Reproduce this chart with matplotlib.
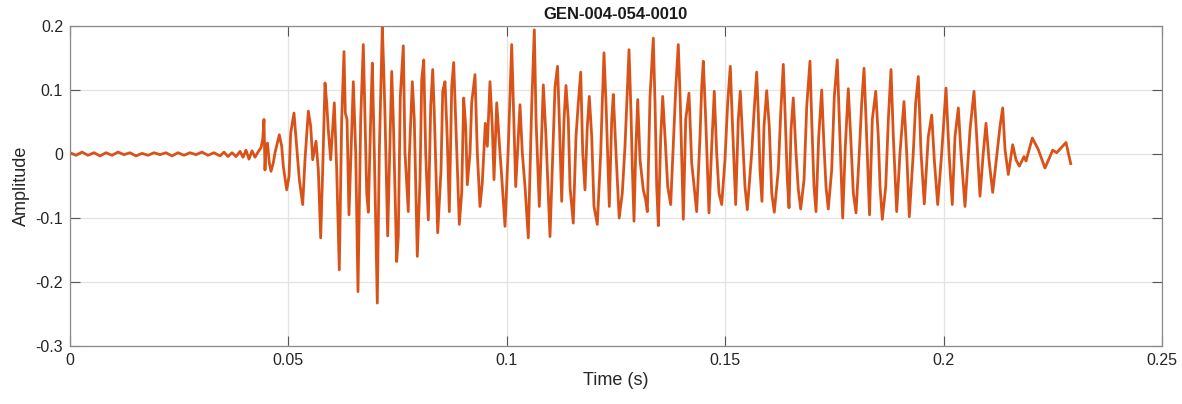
import matplotlib
matplotlib.use("Agg")
import matplotlib.pyplot as plt
import numpy as np

plt.rcParams['font.family'] = ['Liberation Sans', 'DejaVu Sans']
plt.rcParams['axes.unicode_minus'] = False

title = "GEN-004-054-0010"
xlabel = "Time (s)"
ylabel = "Amplitude"
xticks = [0, 0.05, 0.1, 0.15, 0.2, 0.25]
xticklabels = ["0", "0.05", "0.1", "0.15", "0.2", "0.25"]
yticks = [-0.3, -0.2, -0.1, 0, 0.1, 0.2]
yticklabels = ["-0.3", "-0.2", "-0.1", "0", "0.1", "0.2"]

# quiet lead-in (times in ms, amplitudes)
quiet_ms = [0, 1.37, 2.75, 4.12, 5.49, 6.87, 8.24, 9.62, 10.99, 12.36, 13.74,
            15.11, 16.48, 17.86, 19.23, 20.60, 21.98, 23.35, 24.73, 26.10,
            27.47, 28.85, 30.22, 31.59, 32.97, 34.34, 35.26, 36.17, 37.09,
            38.00, 38.92, 39.61, 40.29, 40.98, 41.67, 42.35, 43.04, 43.73]
quiet_amp = [0.002, -0.002, 0.003, -0.002, 0.002, -0.003, 0.002, -0.002,
             0.003, -0.001, 0.002, -0.003, 0.001, -0.002, 0.002, -0.001,
             0.002, -0.003, 0.002, -0.002, 0.002, -0.001, 0.003, -0.002,
             0.002, -0.003, 0.003, -0.004, 0.002, -0.004, 0.004, -0.005,
             0.006, -0.008, 0.005, -0.005, 0.003, 0.010]

# voiced part (times in ms, amplitudes)
voiced_ms = [44.12, 44.41, 44.64, 44.87, 45.21, 45.63, 46.02, 46.54, 46.93,
             47.92, 48.47, 48.83, 49.61, 50.14, 50.53, 51.28, 51.90, 52.50,
             53.27, 53.80, 54.56, 55.11, 55.56, 56.32, 56.85, 57.39, 57.85,
             58.38, 58.77, 59.13, 59.68, 60.51, 61.06, 61.65, 62.20, 62.73,
             63.03, 63.42, 63.87, 64.33, 64.86, 65.41, 65.93, 66.55, 67.15,
             67.54, 67.93, 68.30, 68.91, 69.21, 69.67, 70.35, 70.81, 71.50,
             71.82, 72.12, 72.73, 73.19, 73.65, 74.02, 74.79, 75.16, 75.62,
             76.31, 76.69, 77.45, 77.68, 78.37, 78.82, 79.51, 80.13, 80.52,
             80.98, 81.43, 82.03, 82.58, 83.04, 83.40, 84.18, 84.94, 85.33,
             85.85, 86.38, 86.84, 87.39, 87.84, 88.30, 89.13, 89.67, 90.13,
             90.59, 90.96, 91.58, 91.96, 92.72, 93.25, 93.86, 94.39, 95.08,
             95.54, 96.15, 96.68, 97.07, 97.69, 98.44, 98.83, 99.59, 100.35,
             101.12, 101.65, 102.04, 103.02, 103.55, 104.17, 104.92, 105.70,
             106.30, 106.69, 107.44, 108.36, 108.97, 109.89, 111.04, 111.61,
             112.02, 112.57, 113.10, 113.55, 114.08, 114.47, 115.22, 115.84,
             116.37, 116.92, 117.38, 117.90, 118.43, 118.89, 119.44, 119.96,
             120.72, 121.50, 121.86, 122.25, 122.71, 123.47, 124.02, 124.38,
             125.00, 125.73, 126.44, 127.06, 127.45, 127.98, 128.44, 128.73,
             129.12, 129.51, 129.97, 130.50, 131.25, 131.80, 132.17, 132.79,
             133.54, 133.93, 134.32, 134.69, 135.24, 135.69, 136.22, 136.84,
             137.52, 138.12, 138.67, 139.26, 139.72, 140.41, 140.96, 141.71,
             142.33, 143.47, 144.23, 144.62, 144.99, 145.54, 146.29, 146.91,
             147.50, 148.05, 148.58, 149.20, 149.95, 150.57, 151.17, 151.62,
             152.40, 153.00, 153.46, 154.14, 154.53, 155.06, 156.07, 156.59,
             157.21, 157.58, 157.97, 158.42, 158.88, 159.50, 160.09, 160.65,
             161.24, 162.16, 162.71, 163.30, 163.76, 164.22, 164.61, 165.07,
             165.59, 166.21, 166.74, 167.29, 168.05, 168.67, 169.41, 169.80,
             170.33, 170.79, 171.41, 172.09, 172.62, 173.08, 173.60, 174.38,
             174.98, 175.66, 176.12, 176.90, 177.50, 178.18, 178.73, 179.33,
             179.95, 180.70, 181.25, 181.78, 182.24, 183.04, 183.68, 184.46,
             185.05, 185.45, 185.97, 186.75, 187.35, 187.96, 188.49, 189.26,
             190.02, 190.93, 191.55, 192.15, 193.06, 193.61, 194.21, 194.83,
             195.58, 196.50, 197.28, 197.87, 198.65, 199.57, 200.55, 201.24,
             201.99, 202.61, 203.37, 203.98, 204.90, 206.05, 206.96, 207.58,
             208.33, 209.09, 209.71, 210.39, 211.24, 212.16, 212.91, 213.53,
             214.06, 214.81, 215.82, 216.57, 217.33, 218.41, 218.87, 220.31,
             221.68, 223.21, 224.98, 225.89, 228.02, 229.10]
voiced_amp = [0.023, 0.054, -0.025, 0.012, 0.017, -0.014, -0.027, -0.014, 0.002,
              0.030, 0.012, -0.019, -0.056, -0.035, 0.033, 0.064, 0.012, -0.040,
              -0.079, -0.009, 0.067, 0.043, -0.009, 0.020, -0.025, -0.131, -0.025,
              0.111, 0.080, 0.038, -0.009, 0.080, -0.025, -0.181, 0.054, 0.160,
              0.064, 0.054, -0.095, 0.002, 0.113, 0.002, -0.215, 0.054, 0.171,
              0.054, -0.061, -0.091, 0.075, 0.142, 0.002, -0.233, 0.002, 0.199,
              0.132, 0.059, -0.128, 0.002, 0.129, 0.054, -0.168, -0.129, 0.090,
              0.169, 0.002, -0.090, -0.004, 0.113, 0.054, -0.160, -0.040, 0.116,
              0.147, 0.002, -0.103, 0.075, 0.132, 0.064, -0.123, -0.025, 0.098,
              0.113, 0.022, -0.090, 0.105, 0.143, 0.054, -0.110, -0.061, 0.0875,
              0.043, -0.048, 0.002, 0.080, 0.124, 0.002, -0.082, -0.045, 0.048,
              0.012, 0.113, 0.043, -0.040, 0.080, 0.002, -0.035, -0.113, 0.012,
              0.171, 0.043, -0.051, 0.077, 0.002, -0.051, -0.131, 0.075,
              0.194, 0.054, -0.082, 0.108, 0.027, -0.129, 0.105, 0.137,
              0.054, -0.074, 0.054, 0.107, 0.054, -0.051, -0.108, 0.027,
              0.080, 0.128, 0.002, -0.056, 0.043, 0.090, 0.027, -0.082,
              -0.110, 0.002, 0.080, 0.158, 0.080, -0.082, 0.054, 0.093,
              0.002, -0.100, -0.061, 0.012, 0.075, 0.163, 0.064, -0.019,
              -0.105, 0.002, 0.085, -0.009, -0.056, -0.072, -0.090, 0.090,
              0.181, 0.080, -0.051, -0.112, 0.027, 0.090, 0.027, -0.051,
              -0.079, 0.017, 0.101, 0.171, 0.080, -0.102, 0.054, 0.095,
              -0.014, -0.090, 0.027, 0.105, 0.145, 0.054, -0.092, 0.012,
              0.098, 0.002, -0.061, -0.079, -0.009, 0.080, 0.137, 0.054,
              -0.079, 0.054, 0.098, 0.002, -0.051, -0.087, 0.002, 0.064,
              0.128, 0.064, -0.025, -0.074, 0.043, 0.099, 0.043, -0.061,
              -0.091, -0.025, 0.064, 0.140, 0.054, -0.040, -0.084, 0.038,
              0.0875, 0.002, -0.056, -0.086, -0.040, 0.075, 0.145, 0.054,
              -0.051, -0.090, 0.027, 0.100, 0.012, -0.051, -0.086, -0.025,
              0.090, 0.147, 0.054, -0.100, 0.012, 0.102, 0.027, -0.061,
              -0.092, 0.002, 0.080, 0.134, 0.054, -0.095, 0.054, 0.098,
              0.027, -0.051, -0.102, -0.051, 0.054, 0.132, 0.027, -0.090,
              0.002, 0.082, 0.002, -0.098, 0.002, 0.080, 0.121, 0.002,
              -0.078, 0.027, 0.061, -0.009, -0.079, 0.002, 0.103, 0.002,
              -0.079, 0.027, 0.072, 0.002, -0.082, 0.038, 0.098, 0.027,
              -0.066, 0.002, 0.048, -0.009, -0.060, -0.004, 0.043, 0.072,
              0.007, -0.032, 0.0145, -0.009, -0.019, -0.004, -0.011, 0.025,
              0.007, -0.022, 0.006, 0.002, 0.018, -0.015]

t = np.array(quiet_ms + voiced_ms) / 1000.0
a = np.array(quiet_amp + voiced_amp)

fig = plt.figure(figsize=(11.82, 4.04), dpi=100)
ax = fig.add_axes([70 / 1182, 1 - 346 / 404, 1092 / 1182, 320 / 404])

ax.plot(t, a, color='#D95319', linewidth=2.0, solid_joinstyle='round')

ax.set_xlim(0, 0.25)
ax.set_ylim(-0.3, 0.2)
ax.set_xticks(xticks)
ax.set_xticklabels(xticklabels)
ax.set_yticks(yticks)
ax.set_yticklabels(yticklabels)

ax.grid(True, color='#e3e3e3', linewidth=0.9)
ax.set_axisbelow(True)
for s in ax.spines.values():
    s.set_color('#8a8a8a')
    s.set_linewidth(0.9)
ax.tick_params(direction='in', length=7.5, width=0.8, color='#555555',
               top=True, right=True, labelsize=11.5, labelcolor='#262626', pad=5)

ax.set_title(title, fontsize=12, fontweight='bold', color='#1a1a1a', pad=5)
ax.set_xlabel(xlabel, fontsize=13, color='#262626', labelpad=3)
ax.set_ylabel(ylabel, fontsize=13, color='#262626', labelpad=4)

fig.savefig('out.png', dpi=100)
